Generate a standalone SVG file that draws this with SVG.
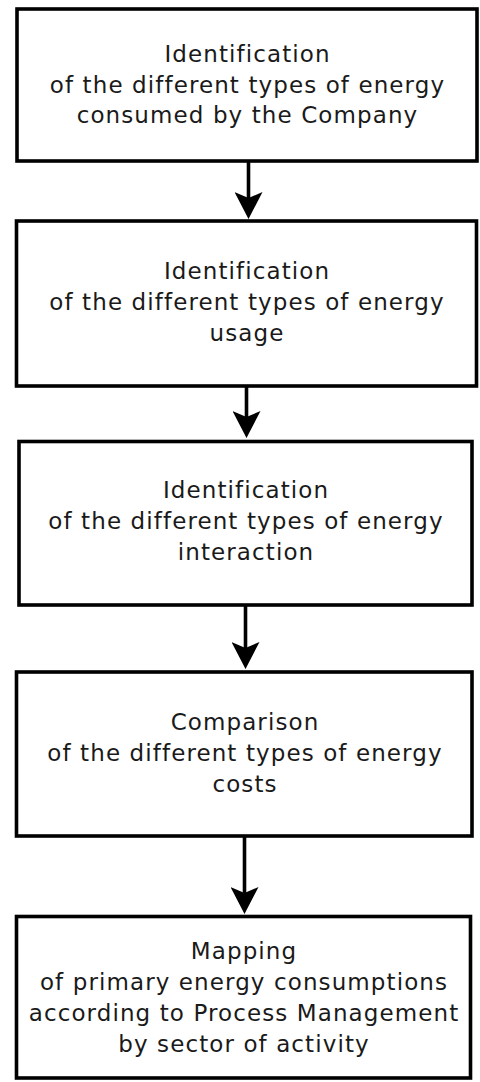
<svg xmlns="http://www.w3.org/2000/svg" width="480" height="1082" viewBox="0 0 480 1082">
<style>
.box{fill:#ffffff;stroke:#000000;stroke-width:3.6}
.lbl{font-family:"DejaVu Sans","Liberation Sans",sans-serif;font-size:23px;letter-spacing:1.1px;fill:#1a1a1a;text-anchor:middle}
.conn{stroke:#000000;stroke-width:3.6;fill:none}
</style>
<defs>
<marker id="arr" markerUnits="userSpaceOnUse" markerWidth="28" markerHeight="28" viewBox="0 0 28 28" refX="15" refY="14" orient="auto">
<path d="M0,0 L6,14 L0,28 L27,14 Z" fill="#000000"/>
</marker>
</defs>
<rect width="480" height="1082" fill="#ffffff"/>
<g id="connectors">
<line class="conn" x1="248.5" y1="161" x2="248.5" y2="207" marker-end="url(#arr)"/>
<line class="conn" x1="246.5" y1="386" x2="246.5" y2="426" marker-end="url(#arr)"/>
<line class="conn" x1="245.5" y1="605" x2="245.5" y2="657" marker-end="url(#arr)"/>
<line class="conn" x1="244.5" y1="836" x2="244.5" y2="902" marker-end="url(#arr)"/>
</g>
<g id="node1">
<rect class="box" x="17" y="9" width="460" height="152"/>
<text class="lbl" x="247.5" y="62">Identification</text>
<text class="lbl" x="247.5" y="93">of the different types of energy</text>
<text class="lbl" x="247.5" y="123">consumed by the Company</text>
</g>
<g id="node2">
<rect class="box" x="16.5" y="221" width="460" height="165"/>
<text class="lbl" x="247" y="279">Identification</text>
<text class="lbl" x="247" y="310">of the different types of energy</text>
<text class="lbl" x="247" y="341">usage</text>
</g>
<g id="node3">
<rect class="box" x="19" y="441.5" width="453" height="163.5"/>
<text class="lbl" x="246" y="498">Identification</text>
<text class="lbl" x="246" y="529">of the different types of energy</text>
<text class="lbl" x="246" y="560">interaction</text>
</g>
<g id="node4">
<rect class="box" x="16.5" y="672" width="455.5" height="164"/>
<text class="lbl" x="245" y="730">Comparison</text>
<text class="lbl" x="245" y="761">of the different types of energy</text>
<text class="lbl" x="245" y="792">costs</text>
</g>
<g id="node5">
<rect class="box" x="16.5" y="916.5" width="454" height="161.5"/>
<text class="lbl" x="244" y="959">Mapping</text>
<text class="lbl" x="244" y="990">of primary energy consumptions</text>
<text class="lbl" x="244" y="1021">according to Process Management</text>
<text class="lbl" x="244" y="1052">by sector of activity</text>
</g>
</svg>
